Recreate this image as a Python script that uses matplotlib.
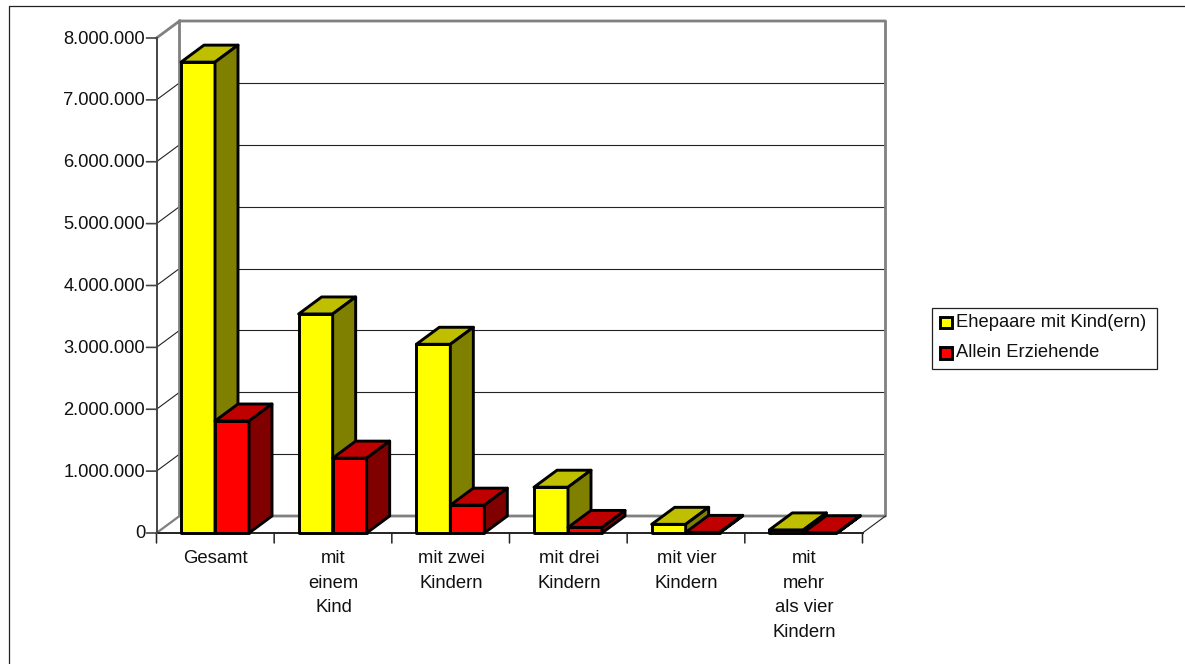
import matplotlib
matplotlib.use('Agg')
import matplotlib.pyplot as plt
import numpy as np
from matplotlib.patches import Polygon, Rectangle

plt.rcParams['font.family'] = ['Liberation Sans', 'DejaVu Sans']

categories = ['Gesamt', 'mit\neinem\nKind', 'mit zwei\nKindern', 'mit drei\nKindern',
              'mit vier\nKindern', 'mit\nmehr\nals vier\nKindern']
ehepaare = [7610000, 3540000, 3050000, 740000, 140000, 50000]
allein = [1810000, 1210000, 450000, 90000, 10000, 5000]
yticks = [0, 1000000, 2000000, 3000000, 4000000, 5000000, 6000000, 7000000, 8000000]
series_names = ['Ehepaare mit Kind(ern)', 'Allein Erziehende']

W, H = 1185, 664
fig = plt.figure(figsize=(W / 100, H / 100), dpi=100)

# front plane of the fake 3d box, in pixels
left, right, top, bottom = 156.5, 862.5, 38, 533
ax = fig.add_axes([left / W, 1 - bottom / H, (right - left) / W, (bottom - top) / H])
ax.set_xlim(0, len(categories))
ax.set_ylim(0, 8000000)
ax.patch.set_alpha(0)
for s in ax.spines.values():
    s.set_visible(False)
ax.set_xticks([])
ax.set_yticks([])

# depth offset in data units
dx = 23 / ((right - left) / len(categories))
dy = 17 / (bottom - top) * 8000000
bar_w = 34 / ((right - left) / len(categories))
ymax = yticks[-1]
n = len(categories)

# outer frame, only top and left are visible
fig.add_artist(plt.Line2D([9 / W, 9 / W, 1], [0, 1 - 6 / H, 1 - 6 / H], color='#222222', lw=0.9))

# gridlines on back wall and side wall
for v in yticks[1:-1]:
    ax.plot([dx, n + dx], [v + dy, v + dy], color='#222222', lw=0.8, zorder=1, clip_on=False)
    ax.plot([0, dx], [v, v + dy], color='#222222', lw=0.8, zorder=1, clip_on=False)

# walls
gray = '#808080'
ax.plot([0, dx, n + dx, n + dx, dx, dx], [ymax, ymax + dy, ymax + dy, dy, dy, ymax + dy],
        color=gray, lw=2, zorder=2, clip_on=False)
ax.plot([0, dx], [0, dy], color=gray, lw=1.6, zorder=2, clip_on=False)

# floor edge at the right end
ax.plot([n, n + dx], [0, dy], color='#222222', lw=0.8, zorder=2, clip_on=False)

# axes lines and ticks
ax.plot([0, 0], [0, ymax], color='#444444', lw=1.4, zorder=8, clip_on=False)
ax.plot([0, n], [0, 0], color='#222222', lw=1.4, zorder=3, clip_on=False)
for v in yticks:
    ax.annotate('', xy=(0, v), xytext=(-10, 0), textcoords='offset pixels',
                arrowprops=dict(arrowstyle='-', lw=1.2, color='#444444', shrinkA=0, shrinkB=0))
    ax.annotate(f'{v:,}'.replace(',', '.'), xy=(0, v), xytext=(-11.5, -1), textcoords='offset pixels',
                ha='right', va='center', fontsize=13.2, color='#111111')
for i in range(n + 1):
    ax.annotate('', xy=(i, 0), xytext=(0, -10), textcoords='offset pixels',
                arrowprops=dict(arrowstyle='-', lw=1.1, color='#222222', shrinkA=0, shrinkB=0))


def bar3d(x0, val, front, top_c, side_c, z):
    x1 = x0 + bar_w
    lw = 2.1
    pts = [
        ([(x0, 0), (x1, 0), (x1, val), (x0, val)], front),
        ([(x0, val), (x1, val), (x1 + dx, val + dy), (x0 + dx, val + dy)], top_c),
        ([(x1, 0), (x1 + dx, dy), (x1 + dx, val + dy), (x1, val)], side_c),
    ]
    for p, c in pts:
        ax.add_patch(Polygon(p, closed=True, facecolor=c, edgecolor='black', lw=lw,
                             joinstyle='round', zorder=z, clip_on=False))


for i in range(n):
    x0 = i + 24.5 / ((right - left) / n)
    bar3d(x0, ehepaare[i], '#ffff00', '#bfbf00', '#808000', 10 + 2 * i)
    bar3d(x0 + bar_w, allein[i], '#ff0000', '#bf0000', '#800000', 11 + 2 * i)
    ax.annotate(categories[i], xy=(i + 0.5, 0), xytext=(0.5, -17), textcoords='offset pixels',
                ha='center', va='top', fontsize=13.3, linespacing=1.58, color='#111111')

# legend built by hand to get the box position
fig.add_artist(Rectangle((931.5 / W, 1 - 368.5 / H), 225 / W, 61 / H, transform=fig.transFigure,
                         facecolor='white', edgecolor='#222222', lw=0.9))
for name, c, yp in zip(series_names, ['#ffff00', '#ff0000'], [322.5, 353]):
    fig.add_artist(Rectangle((940 / W, 1 - (yp + 5.7) / H), 11.5 / W, 11.5 / H, transform=fig.transFigure,
                             facecolor=c, edgecolor='black', lw=2.1))
    fig.text(956.5 / W, 1 - yp / H, name, ha='left', va='center', fontsize=13.2, color='#111111')

fig.savefig('out.png', dpi=100)
